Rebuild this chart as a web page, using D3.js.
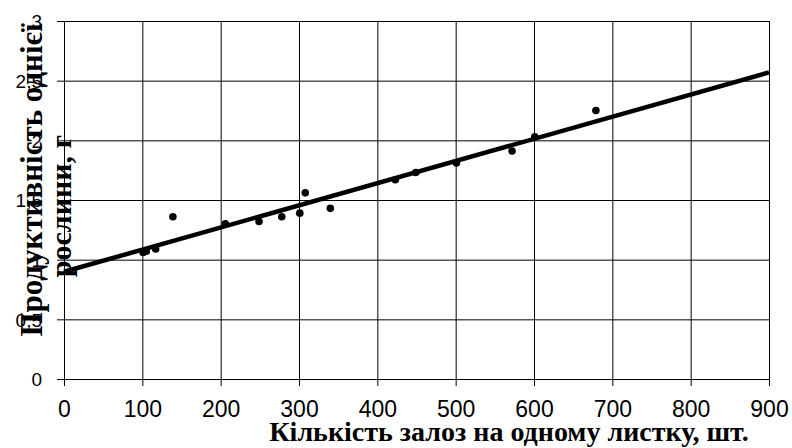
<!DOCTYPE html>
<html>
<head>
<meta charset="utf-8">
<script src="https://cdn.jsdelivr.net/npm/d3@7"></script>
<style>
  body { margin: 0; background: #fff; }
  .axis text { font-family: "Liberation Sans", Arial, sans-serif; fill: #000; }
  .axis path, .axis line { stroke: #000; }
  .grid line { stroke: #000; stroke-width: 1; }
  .grid path { display: none; }
  .title { font-family: "Liberation Serif", "Times New Roman", serif; font-weight: bold; fill: #000; }
</style>
</head>
<body>
<svg id="chart" width="792" height="448"></svg>
<script>
// glands per leaf vs. productivity of one plant
var glands = [101, 105, 117, 139, 206, 249, 278, 301, 308, 340, 423, 449, 501, 572, 601, 679];
var yieldG = [1.06, 1.07, 1.09, 1.36, 1.30, 1.32, 1.36, 1.39, 1.56, 1.43, 1.67, 1.73, 1.81, 1.91, 2.03, 2.25];
var xTicks = [0, 100, 200, 300, 400, 500, 600, 700, 800, 900];
var yTicks = [0, 0.5, 1, 1.5, 2, 2.5, 3];

var margin = {top: 21, right: 23, bottom: 69, left: 64},
    width = 792 - margin.left - margin.right,
    height = 448 - margin.top - margin.bottom;

var x = d3.scaleLinear().domain([0, 900]).range([0, width]);
var y = d3.scaleLinear().domain([0, 3]).range([height, 0]);

var svg = d3.select("#chart")
  .append("g")
    .attr("transform", "translate(" + margin.left + "," + margin.top + ")");

// grid
svg.append("g")
    .attr("class", "grid")
    .call(d3.axisLeft(y).tickValues(yTicks).tickSize(-width).tickFormat(""));
svg.append("g")
    .attr("class", "grid")
    .attr("transform", "translate(0," + height + ")")
    .call(d3.axisBottom(x).tickValues(xTicks).tickSize(-height).tickFormat(""));

// axes
svg.append("g")
    .attr("class", "axis")
    .call(d3.axisLeft(y).tickValues(yTicks).tickSize(7).tickPadding(15)
      .tickFormat(function(d) { return String(d).replace(".", ","); }))
    .call(function(g) { g.selectAll("text").style("font-size", "19px").attr("dy", "0.36em"); });

svg.append("g")
    .attr("class", "axis")
    .attr("transform", "translate(0," + height + ")")
    .call(d3.axisBottom(x).tickValues(xTicks).tickSize(7).tickPadding(15))
    .call(function(g) { g.selectAll("text").style("font-size", "23px"); });

// least squares trend
var mx = d3.mean(glands), my = d3.mean(yieldG);
var sxy = d3.sum(glands, function(d, i) { return (d - mx) * (yieldG[i] - my); });
var sxx = d3.sum(glands, function(d) { return (d - mx) * (d - mx); });
var slope = sxy / sxx, icpt = my - slope * mx;

svg.append("line")
    .attr("x1", x(0)).attr("y1", y(icpt))
    .attr("x2", x(900)).attr("y2", y(icpt + slope * 900))
    .attr("stroke", "#000")
    .attr("stroke-width", 4.5);

svg.selectAll(".dot")
    .data(glands)
  .enter().append("circle")
    .attr("class", "dot")
    .attr("cx", function(d) { return x(d); })
    .attr("cy", function(d, i) { return y(yieldG[i]); })
    .attr("r", 3.8)
    .attr("fill", "#000");

// titles
var root = d3.select("#chart");
root.append("text")
    .attr("class", "title")
    .attr("x", 509).attr("y", 441)
    .attr("text-anchor", "middle")
    .style("font-size", "28px")
    .text("Кількість залоз на одному листку, шт.");

root.append("text")
    .attr("class", "title")
    .attr("transform", "translate(42,180) rotate(-90)")
    .attr("text-anchor", "middle")
    .style("font-size", "31px")
    .text("Продуктивність однієї");

root.append("text")
    .attr("class", "title")
    .attr("transform", "translate(71,206) rotate(-90)")
    .attr("text-anchor", "middle")
    .style("font-size", "30px")
    .text("рослини, г");
</script>
</body>
</html>
